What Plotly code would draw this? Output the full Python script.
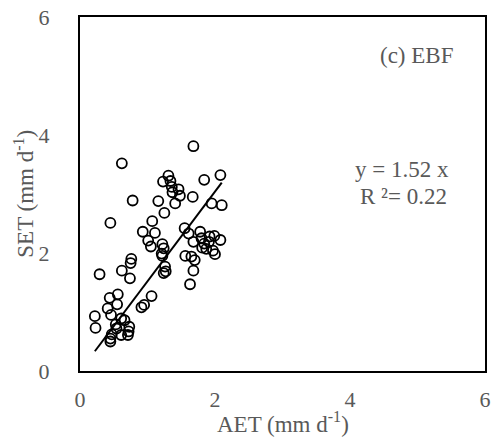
import plotly.graph_objects as go

aet = [1.68, 0.62, 2.08, 1.84, 1.31, 1.23, 1.34, 1.36, 1.46, 1.37, 1.48, 1.67, 1.41, 1.16,
       0.78, 1.95, 2.10, 1.25, 0.45, 1.07, 0.93, 1.11, 1.01, 1.05, 1.22, 1.24, 1.21, 1.22,
       1.55, 1.61, 1.78, 1.68, 1.80, 1.92, 1.99, 2.08, 1.84, 1.91, 1.81, 1.87, 1.97, 2.00,
       1.56, 1.65, 1.70, 1.68, 1.63, 1.26, 1.27, 1.24, 0.76, 0.75, 0.62, 0.74, 0.29, 1.06,
       0.95, 0.91, 0.56, 0.44, 0.55, 0.41, 0.46, 0.22, 0.23, 0.61, 0.66, 0.53, 0.73, 0.72,
       0.71, 0.61, 0.47, 0.45, 0.45, 0.54]
set_ = [3.81, 3.52, 3.32, 3.24, 3.31, 3.21, 3.22, 3.12, 3.08, 3.03, 2.97, 2.95, 2.84, 2.88,
        2.89, 2.84, 2.81, 2.68, 2.51, 2.54, 2.36, 2.34, 2.21, 2.11, 2.15, 2.08, 1.99, 1.95,
        2.42, 2.33, 2.36, 2.19, 2.25, 2.28, 2.29, 2.22, 2.16, 2.19, 2.09, 2.07, 2.04, 1.98,
        1.95, 1.94, 1.88, 1.70, 1.47, 1.77, 1.69, 1.66, 1.90, 1.83, 1.70, 1.57, 1.64, 1.27,
        1.12, 1.08, 1.30, 1.24, 1.13, 1.06, 0.95, 0.93, 0.73, 0.89, 0.86, 0.79, 0.75, 0.67,
        0.61, 0.61, 0.62, 0.55, 0.50, 0.72]
slope = 1.52
r2 = 0.22
ticks = [0, 2, 4, 6]

xmin, xmax = min(aet), max(aet)
line_x = [xmin, xmax]
line_y = [slope * v for v in line_x]

FONT = "Liberation Serif"
GRAY = "#595959"

fig = go.Figure()
fig.add_trace(go.Scatter(
    x=aet, y=set_, mode="markers",
    marker=dict(symbol="circle-open", size=10, color="black", line=dict(width=1.8, color="black")),
    showlegend=False))
fig.add_trace(go.Scatter(
    x=line_x, y=line_y, mode="lines",
    line=dict(color="black", width=2), showlegend=False))

axis_common = dict(
    range=[0, 6], tickvals=ticks, showgrid=False, zeroline=False,
    showline=True, linecolor="black", linewidth=2, mirror=True,
    ticks="outside", tickcolor="rgba(0,0,0,0)",
    tickfont=dict(family=FONT, size=22, color=GRAY),
)
fig.update_xaxes(**axis_common, ticklen=8)
fig.update_yaxes(**axis_common, ticklen=24)

ann = [
    dict(text="AET (mm d<sup>-1</sup>)", x=0.5, y=-0.145),
    dict(text="(c) EBF", x=0.832, y=0.89),
    dict(text="y = 1.52 x", x=0.796, y=0.568),
    dict(text="R ²= 0.22", x=0.798, y=0.492),
]
for a in ann:
    fig.add_annotation(text=a["text"], x=a["x"], y=a["y"], xref="paper", yref="paper",
                       showarrow=False, xanchor="center", yanchor="middle",
                       font=dict(family=FONT, size=23, color=GRAY))
fig.add_annotation(text="SET (mm d<sup>-1</sup>)", x=-0.139, y=0.5, xref="paper", yref="paper",
                   showarrow=False, xanchor="center", yanchor="middle", textangle=-90,
                   font=dict(family=FONT, size=23, color=GRAY))

fig.update_layout(
    width=495, height=439,
    margin=dict(l=80, r=4, t=17, b=68),
    paper_bgcolor="white", plot_bgcolor="white",
)
fig.write_html("out.html")
